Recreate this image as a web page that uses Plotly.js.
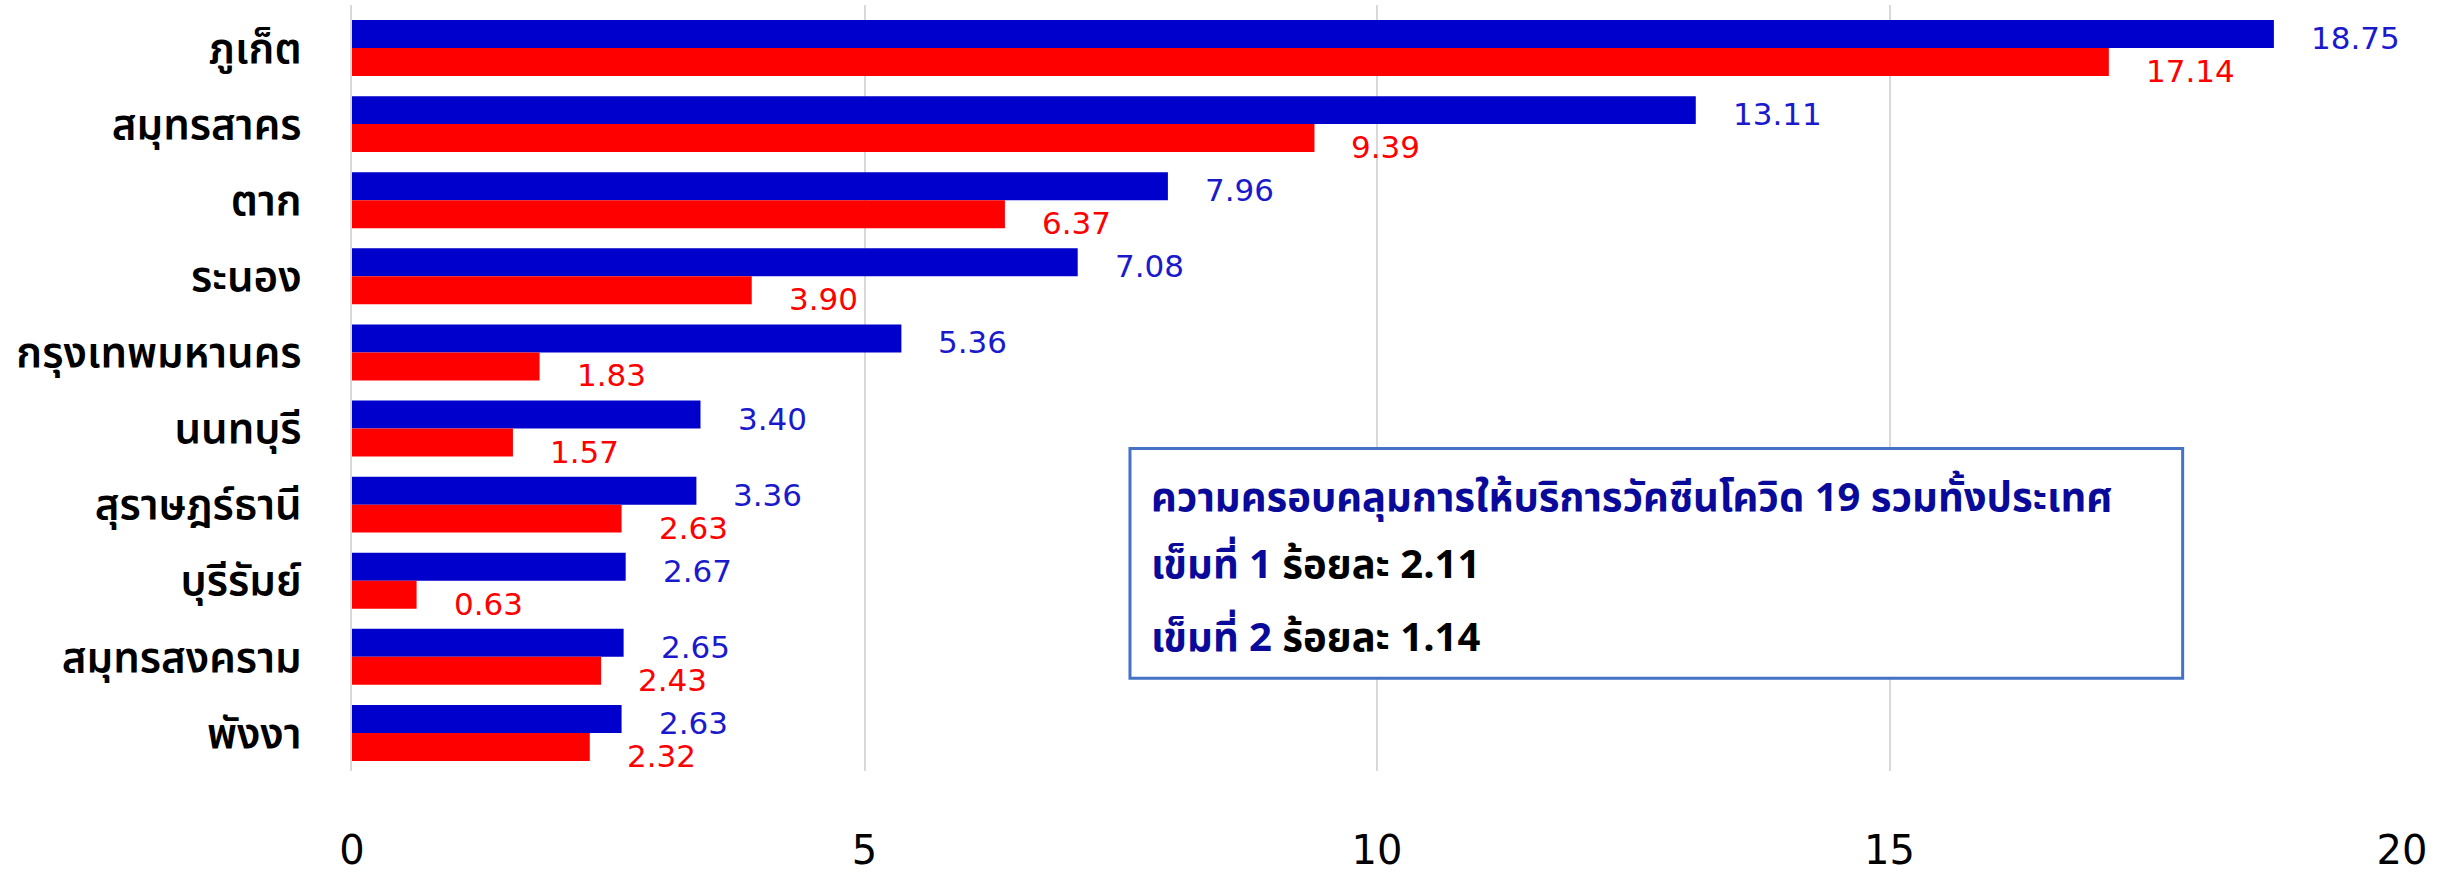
<!DOCTYPE html>
<html><head><meta charset="utf-8">
<script src="https://cdn.plot.ly/plotly-3.0.1.min.js"></script>
<style>body{margin:0;background:#fff}#chart{width:2448px;height:875px}</style>
</head><body><div id="chart"></div>
<script>
const provinces = ["ภูเก็ต","สมุทรสาคร","ตาก","ระนอง","กรุงเทพมหานคร","นนทบุรี","สุราษฎร์ธานี","บุรีรัมย์","สมุทรสงคราม","พังงา"];
const dose1 = [18.75,13.11,7.96,7.08,5.36,3.40,3.36,2.67,2.65,2.63];
const dose2 = [17.14,9.39,6.37,3.90,1.83,1.57,2.63,0.63,2.43,2.32];
const xTicks = [0,5,10,15,20];
const boxTitle = "ความครอบคลุมการให้บริการวัคซีนโควิด 19 รวมทั้งประเทศ";
const boxLines = [["เข็มที่ 1","ร้อยละ 2.11"],["เข็มที่ 2","ร้อยละ 1.14"]];

const thaiFont = "'Noto Sans Thai', Tahoma, 'Noto Sans', 'DejaVu Sans', sans-serif";
const numFont = "'DejaVu Sans', Verdana, sans-serif";
const blue = "#0000CC", red = "#FF0000";

const traces = [
  {type:"bar", orientation:"h", y:provinces, x:dose1, marker:{color:blue}, name:"เข็มที่ 1", hoverinfo:"x+y"},
  {type:"bar", orientation:"h", y:provinces, x:dose2, marker:{color:red}, name:"เข็มที่ 2", hoverinfo:"x+y"}
];

const annotations = [];
provinces.forEach((p,i)=>{
  annotations.push({x:dose1[i], y:p, xref:"x", yref:"y", text:dose1[i].toFixed(2), showarrow:false,
    xanchor:"left", yanchor:"middle", xshift:35, yshift:10, font:{family:numFont,size:31,color:"#1A1ACC"}});
  annotations.push({x:dose2[i], y:p, xref:"x", yref:"y", text:dose2[i].toFixed(2), showarrow:false,
    xanchor:"left", yanchor:"middle", xshift:35, yshift:-23, font:{family:numFont,size:31,color:red}});
});
annotations.push({xref:"paper", yref:"paper", x:0.389, y:0.355, xanchor:"left", yanchor:"middle", showarrow:false,
  text:"<b>"+boxTitle+"</b>", font:{family:thaiFont,size:40,color:"#0A0A9A"}});
boxLines.forEach((ln,k)=>{
  annotations.push({xref:"paper", yref:"paper", x:0.389, y:[0.268,0.172][k], xanchor:"left", yanchor:"middle", showarrow:false,
    text:"<b><span style='color:#0A0A9A'>"+ln[0]+"</span> "+ln[1]+"</b>", font:{family:thaiFont,size:40,color:"#000"}});
});

const layout = {
  width:2448, height:875,
  margin:{l:352, r:46, t:5, b:104},
  paper_bgcolor:"#fff", plot_bgcolor:"#fff",
  barmode:"group", bargap:0.265, bargroupgap:0,
  showlegend:false,
  xaxis:{range:[0,20], tickvals:xTicks, ticktext:xTicks.map(String), showgrid:true, gridcolor:"#D9D9D9", gridwidth:2,
    zeroline:false, showline:false, ticks:"", ticklabelstandoff:52, tickfont:{family:numFont,size:40,color:"#000"}},
  yaxis:{type:"category", autorange:"reversed", showgrid:false, zeroline:false, showline:true, linecolor:"#D9D9D9", linewidth:2,
    ticks:"", ticklabelstandoff:40, tickfont:{family:thaiFont,size:42,color:"#000", weight:600}},
  shapes:[{type:"rect", xref:"paper", yref:"paper", x0:0.3795, x1:0.893, y0:0.121, y1:0.421,
    line:{color:"#4472C4", width:3}, fillcolor:"#fff", layer:"above"}],
  annotations:annotations
};
Plotly.newPlot("chart", traces, layout, {staticPlot:true});
</script></body></html>
